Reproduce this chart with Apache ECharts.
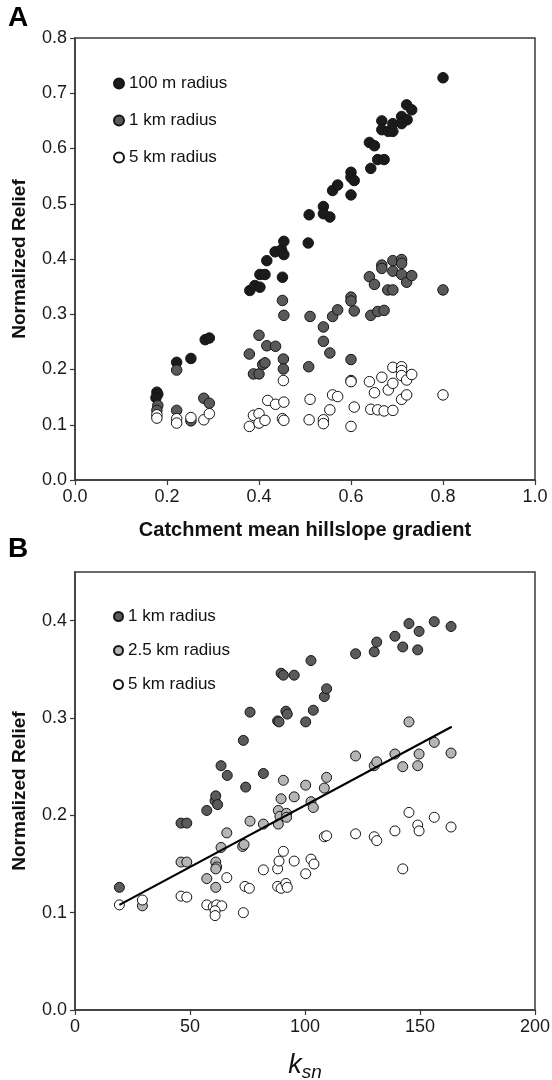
<!DOCTYPE html>
<html><head><meta charset="utf-8">
<script src="https://cdn.jsdelivr.net/npm/echarts@6/dist/echarts.min.js"></script>
<style>html,body{margin:0;padding:0;background:#fff}#c{width:552px;height:1080px}</style>
</head><body><div id="c"></div>
<script>
// ---------- Panel A data (x: catchment mean hillslope gradient, y: normalized relief)
const a100m = [[.178,.159],[.180,.155],[.176,.149],[.221,.213],[.252,.220],[.283,.254],[.292,.257],[.380,.343],[.391,.352],[.402,.349],[.402,.372],[.413,.372],[.417,.397],[.435,.413],[.449,.417],[.454,.408],[.454,.432],[.451,.367],[.507,.429],[.509,.480],[.540,.495],[.540,.482],[.554,.476],[.560,.524],[.571,.534],[.600,.557],[.600,.548],[.607,.542],[.600,.516],[.643,.564],[.658,.580],[.672,.580],[.640,.611],[.651,.605],[.667,.650],[.667,.634],[.681,.631],[.691,.631],[.691,.645],[.710,.658],[.722,.652],[.710,.645],[.721,.679],[.732,.670],[.800,.728]];
const a1km = [[.180,.135],[.178,.126],[.221,.199],[.221,.126],[.252,.107],[.280,.148],[.292,.139],[.379,.228],[.388,.192],[.400,.192],[.400,.262],[.408,.209],[.413,.212],[.417,.243],[.436,.242],[.453,.219],[.453,.201],[.451,.325],[.454,.298],[.508,.205],[.511,.296],[.540,.277],[.540,.251],[.554,.230],[.560,.296],[.571,.308],[.600,.331],[.600,.324],[.607,.306],[.600,.218],[.643,.298],[.658,.305],[.672,.307],[.640,.368],[.651,.354],[.667,.389],[.667,.383],[.680,.344],[.691,.344],[.691,.397],[.710,.399],[.710,.392],[.691,.378],[.710,.372],[.721,.358],[.732,.370],[.800,.344]];
const a5km = [[.178,.118],[.178,.112],[.221,.111],[.221,.103],[.252,.113],[.280,.109],[.292,.120],[.379,.097],[.388,.117],[.400,.120],[.400,.103],[.413,.108],[.419,.144],[.436,.137],[.454,.141],[.453,.180],[.451,.111],[.454,.108],[.509,.109],[.511,.146],[.540,.109],[.540,.102],[.554,.127],[.560,.154],[.571,.151],[.600,.180],[.600,.178],[.600,.097],[.607,.132],[.640,.178],[.651,.158],[.643,.128],[.658,.127],[.672,.125],[.691,.126],[.667,.186],[.681,.163],[.691,.175],[.691,.204],[.710,.205],[.710,.198],[.710,.189],[.721,.181],[.732,.191],[.710,.146],[.721,.154],[.800,.154]];

// ---------- Panel B data (x: ksn, y: normalized relief)
const b1km = [[19.3,.126],[46.1,.192],[48.6,.192],[57.3,.205],[60.9,.215],[61.2,.220],[62.0,.211],[63.5,.251],[66.2,.241],[73.2,.277],[74.2,.229],[76.1,.306],[81.9,.243],[88.1,.297],[88.7,.296],[91.7,.307],[92.3,.304],[89.6,.346],[90.6,.344],[95.3,.344],[100.3,.296],[103.6,.308],[102.6,.359],[108.4,.322],[109.4,.330],[122.0,.366],[130.1,.368],[131.2,.378],[139.1,.384],[142.5,.373],[145.2,.397],[149.6,.389],[149.0,.370],[156.2,.399],[163.5,.394]];
const b2_5km = [[29.3,.107],[46.1,.152],[48.6,.152],[57.3,.135],[61.2,.126],[61.2,.152],[61.6,.147],[61.2,.145],[63.5,.167],[66.0,.182],[72.9,.168],[73.5,.170],[76.1,.194],[81.9,.191],[88.4,.205],[89.1,.199],[88.4,.191],[92.0,.202],[92.0,.198],[89.6,.217],[95.3,.219],[90.6,.236],[100.3,.231],[102.6,.214],[103.6,.208],[108.4,.228],[109.4,.239],[122.0,.261],[130.1,.251],[131.2,.255],[139.1,.263],[142.5,.250],[145.2,.296],[149.6,.263],[149.0,.251],[156.2,.275],[163.5,.264]];
const b5km = [[19.3,.108],[29.3,.113],[46.1,.117],[48.6,.116],[57.3,.108],[60.1,.106],[61.6,.108],[63.8,.107],[60.9,.102],[60.9,.097],[66.0,.136],[73.2,.100],[73.9,.127],[75.8,.125],[81.9,.144],[88.1,.145],[88.7,.153],[90.6,.163],[95.3,.153],[88.1,.127],[89.6,.125],[91.7,.130],[92.3,.126],[100.3,.140],[102.6,.155],[103.9,.150],[108.4,.178],[109.4,.179],[122.0,.181],[130.1,.178],[131.2,.174],[139.1,.184],[142.5,.145],[145.2,.203],[149.0,.190],[149.6,.184],[156.2,.198],[163.5,.188]];
const fitX = [19.3, 163.8];
const fitY = [0.108, 0.291];
const fitLabel = '0.90';

// ---------- ticks
const aXTicks = [0, 0.2, 0.4, 0.6, 0.8, 1.0];
const aXTickLabels = ['0.0','0.2','0.4','0.6','0.8','1.0'];
const aYTicks = [0,0.1,0.2,0.3,0.4,0.5,0.6,0.7,0.8];
const aYTickLabels = ['0.0','0.1','0.2','0.3','0.4','0.5','0.6','0.7','0.8'];
const bXTicks = [0, 50, 100, 150, 200];
const bXTickLabels = ['0','50','100','150','200'];
const bYTicks = [0, 0.1, 0.2, 0.3, 0.4];
const bYTickLabels = ['0.0','0.1','0.2','0.3','0.4'];

const FONT = '"Liberation Sans", Arial, Helvetica, sans-serif';
const AX = '#3a3a3a';
function lab(ticks, labels){
  return v => { const i = ticks.findIndex(t => Math.abs(t - v) < 1e-9); return i >= 0 ? labels[i] : ''; };
}
function axis(base, ticks, labels, extra){
  return Object.assign({
    type:'value', splitLine:{show:false},
    axisLine:{show:true, onZero:false, lineStyle:{color:AX, width:1.5}},
    axisTick:{show:true, inside:false, length:5, lineStyle:{color:AX, width:1.2}, customValues:ticks},
    axisLabel:{show:true, fontFamily:FONT, fontSize:18, color:'#1a1a1a', margin:8, customValues:ticks, formatter:lab(ticks, labels)},
    nameTextStyle:{fontFamily:FONT, color:'#111'}
  }, base, extra || {});
}
function scat(name, data, fill, idx, size){
  return {type:'scatter', name, xAxisIndex:idx, yAxisIndex:idx, data, symbol:'circle', symbolSize:size,
    itemStyle:{color:fill, borderColor:'#151515', borderWidth:1, opacity:1},
    emphasis:{disabled:true}, animation:false};
}

const chart = echarts.init(document.getElementById('c'), null, {renderer:'canvas'});
const option = {
  animation:false,
  backgroundColor:'#fff',
  grid:[
    {left:75, width:460, top:38, height:442, show:true, borderColor:AX, borderWidth:1.5, backgroundColor:'transparent', outerBoundsMode:'none', containLabel:false},
    {left:75, width:460, top:572, height:438, show:true, borderColor:AX, borderWidth:1.5, backgroundColor:'transparent', outerBoundsMode:'none', containLabel:false}
  ],
  xAxis:[
    axis({gridIndex:0, min:0, max:1, interval:0.2, name:'Catchment mean hillslope gradient', nameLocation:'middle', nameGap:40},
      aXTicks, aXTickLabels, {nameTextStyle:{fontFamily:FONT, fontWeight:'bold', fontSize:20, color:'#111'}}),
    axis({gridIndex:1, min:0, max:200, interval:50, name:'{k|k}{s|sn}', nameLocation:'middle', nameGap:38},
      bXTicks, bXTickLabels, {nameTextStyle:{fontFamily:FONT, color:'#111', rich:{
        k:{fontFamily:FONT, fontStyle:'italic', fontSize:27, lineHeight:34, verticalAlign:'middle', color:'#111'},
        s:{fontFamily:FONT, fontStyle:'italic', fontSize:19, lineHeight:18, verticalAlign:'bottom', color:'#111'}}}})
  ],
  yAxis:[
    axis({gridIndex:0, min:0, max:0.8, interval:0.1, name:'Normalized Relief', nameLocation:'middle', nameGap:46},
      aYTicks, aYTickLabels, {nameTextStyle:{fontFamily:FONT, fontWeight:'bold', fontSize:19, color:'#111'}}),
    axis({gridIndex:1, min:0, max:0.45, interval:0.1, name:'Normalized Relief', nameLocation:'middle', nameGap:46},
      bYTicks, bYTickLabels, {nameTextStyle:{fontFamily:FONT, fontWeight:'bold', fontSize:19, color:'#111'}})
  ],
  legend:[
    {orient:'vertical', left:108, top:70, itemGap:20, itemWidth:10, itemHeight:10, icon:'circle',
     data:['100 m radius','1 km radius','5 km radius'], selectedMode:false,
     textStyle:{fontFamily:FONT, fontSize:17, color:'#111'}},
    {orient:'vertical', left:108, top:603, itemGap:17, itemWidth:9, itemHeight:9, icon:'circle',
     data:['1 km radius','2.5 km radius','5 km radius'], selectedMode:false,
     textStyle:{fontFamily:FONT, fontSize:17, color:'#111'}}
  ],
  graphic:[
    {type:'text', left:8, top:4, style:{text:'A', font:'bold 28px "Liberation Sans", Arial, sans-serif', fill:'#000'}},
    {type:'text', left:8, top:535, style:{text:'B', font:'bold 28px "Liberation Sans", Arial, sans-serif', fill:'#000'}}
  ],
  series:[
    scat('100 m radius', a100m, '#1b1b1b', 0, 10.5),
    scat('1 km radius', a1km, '#5a5a5a', 0, 10.5),
    scat('5 km radius', a5km, '#ffffff', 0, 10.5),
    scat('1 km radius', b1km, '#5a5a5a', 1, 10),
    scat('2.5 km radius', b2_5km, '#b5b5b5', 1, 10),
    scat('5 km radius', b5km, '#ffffff', 1, 10),
    {type:'line', name:'fit', xAxisIndex:1, yAxisIndex:1, z:5, showSymbol:false, symbol:'none', silent:true,
     data: fitX.map((x, i) => [x, fitY[i]]), lineStyle:{color:'#000', width:2.2}, animation:false},
    {type:'scatter', name:'fitlabel', xAxisIndex:1, yAxisIndex:1, z:6, silent:true, symbolSize:1,
     itemStyle:{opacity:0},
     data:[[fitX[1], fitY[1]]],
     label:{show:true, position:'top', distance:4, offset:[21,0],
       formatter:'{r|R}{p|2}{t|= ' + fitLabel + '}',
       rich:{
         r:{fontFamily:FONT, fontWeight:'bold', fontSize:16, lineHeight:18, verticalAlign:'middle', color:'#111'},
         p:{fontFamily:FONT, fontWeight:'bold', fontSize:10, lineHeight:10, verticalAlign:'top', color:'#111'},
         t:{fontFamily:FONT, fontWeight:'bold', fontSize:16, lineHeight:18, verticalAlign:'middle', color:'#111'}
       }}, animation:false}
  ]
};
chart.setOption(option);
</script>
</body></html>
